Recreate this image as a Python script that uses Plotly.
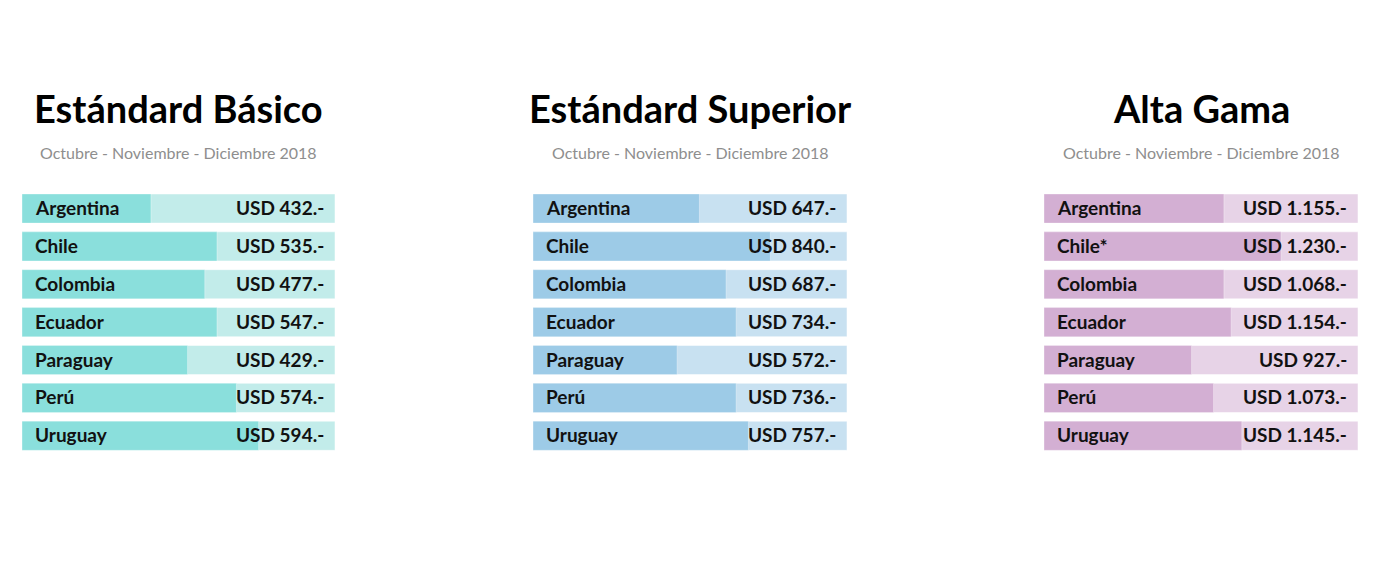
import plotly.graph_objects as go

W, H = 1380, 585
OFF = 8  # page body margin offset

countries_basico = ["Argentina", "Chile", "Colombia", "Ecuador", "Paraguay", "Perú", "Uruguay"]
countries_superior = ["Argentina", "Chile", "Colombia", "Ecuador", "Paraguay", "Perú", "Uruguay"]
countries_alta = ["Argentina", "Chile*", "Colombia", "Ecuador", "Paraguay", "Perú", "Uruguay"]

labels_basico = ["USD 432.-", "USD 535.-", "USD 477.-", "USD 547.-", "USD 429.-", "USD 574.-", "USD 594.-"]
labels_superior = ["USD 647.-", "USD 840.-", "USD 687.-", "USD 734.-", "USD 572.-", "USD 736.-", "USD 757.-"]
labels_alta = ["USD 1.155.-", "USD 1.230.-", "USD 1.068.-", "USD 1.154.-", "USD 927.-", "USD 1.073.-", "USD 1.145.-"]

# bar fill share (% of the full track)
fill_basico = [41.2, 62.3, 58.4, 62.3, 52.9, 68.5, 75.6]
fill_superior = [53.0, 75.6, 61.5, 64.7, 45.9, 64.7, 68.6]
fill_alta = [57.3, 75.5, 57.3, 59.6, 47.0, 54.0, 63.0]

titles = ["Estándard Básico", "Estándard Superior", "Alta Gama"]
subtitle = "Octubre - Noviembre - Diciembre 2018"

panels = [
    dict(title=titles[0], countries=countries_basico, labels=labels_basico, fill=fill_basico,
         dark="#8ADFDC", light="#C2ECEA", x0=22, x1=335),
    dict(title=titles[1], countries=countries_superior, labels=labels_superior, fill=fill_superior,
         dark="#9DCBE7", light="#C8E1F1", x0=533, x1=847),
    dict(title=titles[2], countries=countries_alta, labels=labels_alta, fill=fill_alta,
         dark="#D3AFD3", light="#E7D3E7", x0=1044, x1=1358),
]

FONT = "Lato, 'Noto Sans', sans-serif"
row_top, row_bot = 189.6 - OFF, 454.7 - OFF

fig = go.Figure()
layout = dict(
    width=W, height=H, margin=dict(l=0, r=0, t=0, b=0),
    paper_bgcolor="white", plot_bgcolor="white",
    showlegend=False, barmode="overlay", annotations=[],
)

for i, p in enumerate(panels):
    n = i + 1
    xa = "x" if n == 1 else f"x{n}"
    ya = "y" if n == 1 else f"y{n}"
    rows = list(range(len(p["countries"])))
    fig.add_trace(go.Bar(
        y=rows, x=[100] * len(rows), base=0, orientation="h", width=0.77,
        marker=dict(color=p["light"], line=dict(color="rgba(255,255,255,0.5)", width=1)),
        hoverinfo="skip", xaxis=xa, yaxis=ya))
    fig.add_trace(go.Bar(
        y=rows, x=p["fill"], base=0, orientation="h", width=0.77,
        marker=dict(color=p["dark"], line=dict(color="rgba(255,255,255,0.35)", width=1)),
        customdata=p["labels"], hovertemplate="%{customdata}<extra></extra>",
        xaxis=xa, yaxis=ya))
    xkey = "xaxis" if n == 1 else f"xaxis{n}"
    ykey = "yaxis" if n == 1 else f"yaxis{n}"
    x0, x1 = p["x0"] - OFF, p["x1"] - OFF
    layout[xkey] = dict(domain=[x0 / W, x1 / W], range=[0, 100], visible=False,
                        fixedrange=True, anchor=ya)
    layout[ykey] = dict(domain=[1 - row_bot / H, 1 - row_top / H], range=[6.5, -0.5],
                        visible=False, fixedrange=True, anchor=xa)
    for r, (c, lab) in enumerate(zip(p["countries"], p["labels"])):
        layout["annotations"].append(dict(
            x=0, y=r, xref=xa, yref=ya, text=f"<b>{c}</b>", showarrow=False,
            xanchor="left", yanchor="middle", xshift=11, yshift=1,
            font=dict(family=FONT, size=19, color="#111111")))
        layout["annotations"].append(dict(
            x=100, y=r, xref=xa, yref=ya, text=f"<b>{lab}</b>", showarrow=False,
            xanchor="right", yanchor="middle", xshift=-9, yshift=1,
            font=dict(family=FONT, size=19, color="#111111")))
    cx = (x0 + x1) / 2 / W
    layout["annotations"].append(dict(
        x=cx, y=1 - (108 - OFF) / H, xref="paper", yref="paper", text=f"<b>{p['title']}</b>",
        showarrow=False, xanchor="center", yanchor="middle",
        font=dict(family=FONT, size=38, color="#000000")))
    layout["annotations"].append(dict(
        x=cx, y=1 - (152 - OFF) / H, xref="paper", yref="paper", text=subtitle,
        showarrow=False, xanchor="center", yanchor="middle",
        font=dict(family=FONT, size=16, color="#8E8E8E")))

fig.update_layout(**layout)
fig.write_html("out.html", config={"displayModeBar": False})
